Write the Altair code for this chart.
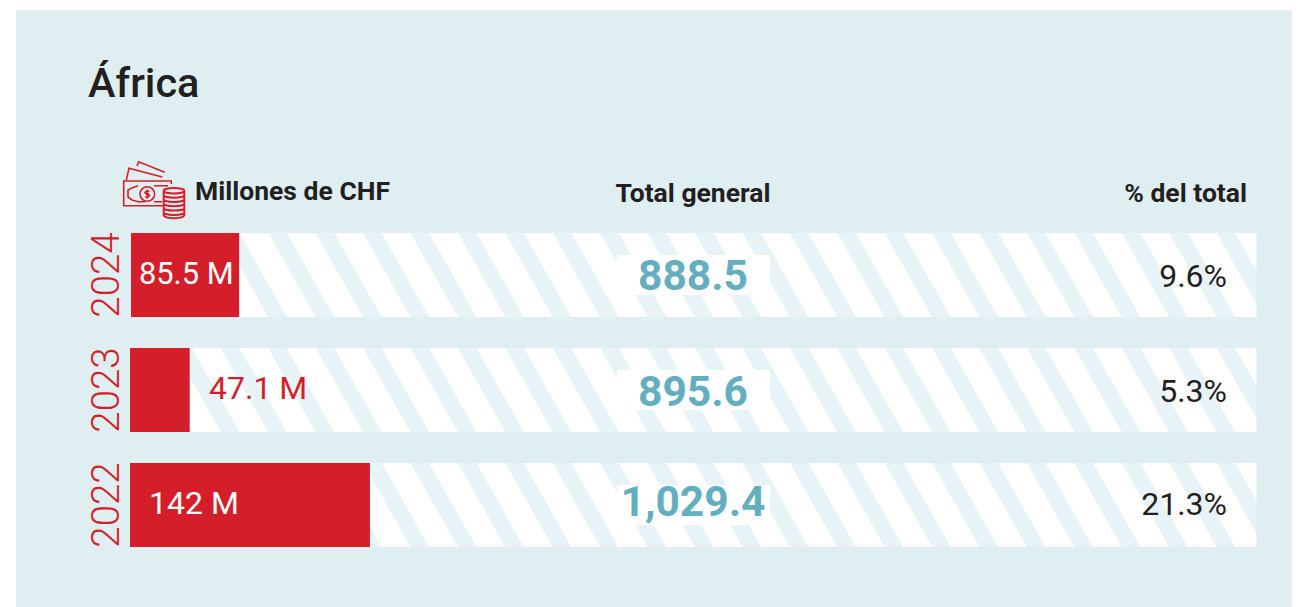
import altair as alt
import pandas as pd

years = ["2024", "2023", "2022"]
amounts = ["85.5 M", "47.1 M", "142 M"]
shares = [9.6, 5.3, 21.3]
share_labels = ["9.6%", "5.3%", "21.3%"]
totals = ["888.5", "895.6", "1,029.4"]
headers = ["Millones de CHF", "Total general", "% del total"]

RED = "#d41f2b"
TEAL = "#63aebf"
DARK = "#231f20"
PANEL = "#dfeef1"
STRIPE = "#e7f3f7"
FONT = "Roboto"

df = pd.DataFrame({"year": years, "amount": amounts, "share": shares,
                   "share_label": share_labels, "total": totals, "full": [100] * 3, "zero": [0] * 3})

x_scale = alt.Scale(domain=[0, 100], range=[114, 1240.5])
y_scale = alt.Scale(domain=years, range=[223, 537], paddingInner=31 / 115, paddingOuter=0)
X = alt.X("zero:Q", scale=x_scale, axis=None)
Y = alt.Y("year:N", scale=y_scale, sort=None, title=None,
          axis=alt.Axis(orient="left", offset=-110, domain=False, ticks=False, labelAngle=270,
                        labelAlign="center", labelBaseline="bottom", labelPadding=0,
                        labelFont=FONT, labelFontWeight=300, labelFontSize=38.5,
                        labelColor=RED, zindex=1, grid=False))

# stripe pattern as a hard-stop linear gradient across the band
period = 47.42
band_w = 1126.5
first = (126.0 - 130.0)
light = 18.5
span = band_w + 2 * period
n = int(span / period) + 2
stops = []
for k in range(n):
    a = (k * period) / span
    b = (k * period + light) / span
    stops += [alt.GradientStop(offset=min(a, 1), color=STRIPE), alt.GradientStop(offset=min(b, 1), color=STRIPE),
              alt.GradientStop(offset=min(b, 1), color="#ffffff"),
              alt.GradientStop(offset=min((k + 1) * period / span, 1), color="#ffffff")]
tilt = band_w / period
gx = (span / band_w) / (1 + 1 / tilt ** 2)
grad = alt.LinearGradient(gradient="linear", stops=stops,
                          x1=first / band_w, y1=0,
                          x2=first / band_w + gx,
                          y2=-gx / tilt)

band = alt.Chart(df).mark_rect(color=grad).encode(x=X, x2="full:Q", y=Y)
bar_shift = {"2024": 1, "2023": 0, "2022": 0}
bars = [
    alt.Chart(df).transform_filter(alt.datum.year == yr).mark_rect(
        color=RED, xOffset=bar_shift[yr], x2Offset=bar_shift[yr]
    ).encode(x=X, x2="share:Q", y=Y)
    for yr in years
]

boxes = alt.Chart(df).mark_bar(color="#ffffff", height=40).encode(x=alt.value(601), x2=alt.value(754), y=Y)

amount_left = {"2024": 123, "2023": 193, "2022": 133}
amount_color = {"2024": "#ffffff", "2023": RED, "2022": "#ffffff"}
amount_size = {"2024": 30.8, "2023": 32, "2022": 32}
amount_dy = {"2024": 0, "2023": -1, "2022": -1}
amount_layers = [
    alt.Chart(df).transform_filter(alt.datum.year == yr).mark_text(
        font=FONT, fontSize=amount_size[yr], fontWeight=400, align="left", baseline="middle", dy=amount_dy[yr],
        color=amount_color[yr]
    ).encode(x=alt.value(amount_left[yr]), y=Y, text="amount:N")
    for yr in years
]

total_dy = {"2024": 2, "2023": 3, "2022": -2}
total_layers = [
    alt.Chart(df).transform_filter(alt.datum.year == yr).mark_text(
        font=FONT, fontSize=42.5, fontWeight=700, color=TEAL, align="center", baseline="middle", dy=total_dy[yr]
    ).encode(x=alt.value(677), y=Y, text="total:N")
    for yr in years
]
share_dy = {"2024": 1.5, "2023": 1.5, "2022": -0.5}
share_layers = [
    alt.Chart(df).transform_filter(alt.datum.year == yr).mark_text(
        font=FONT, fontSize=32, fontWeight=400, color=DARK, align="right", baseline="middle", dy=share_dy[yr]
    ).encode(x=alt.value(1211), y=Y, text="share_label:N")
    for yr in years
]

header_pos = [(179, 190, "left"), (677, 192, "center"), (1231, 192, "right")]
header_layers = [
    alt.Chart(pd.DataFrame({"h": [h]})).mark_text(font=FONT, fontSize=26.5, fontWeight=700, color=DARK, align=al,
                                                  baseline="alphabetic").encode(
        x=alt.value(px), y=alt.value(py), text="h:N")
    for h, (px, py, al) in zip(headers, header_pos)
]

ICON_NOTES = ("M16.3 -6 L16.3 -9 L-31.3 -9 L-31.3 15.7 L8 15.7 "
              "M-28.7 -10 L-26 -21.7 L7.3 -13 M-18 -24 L-16.3 -28.3 L9.7 -17.7 "
              "M-17 -4.3 L-23 -2 L-27 0 L-27 7 L-23 10 L-17 11.7 L-10 11.7 "
              "M-1 -4.3 L13 -4.3 M-1 11.7 L7 11.7 "
              "M-15 4 A7.3 7.3 0 1 1 -0.4 4 A7.3 7.3 0 1 1 -15 4 "
              "M-5.5 1.3 L-8.5 1.3 L-10 2.5 L-9 4 L-6.5 4 L-5.5 5.5 L-7 7 L-10 7 M-7.7 -0.5 L-7.7 8.5")
ICON_COINS = ("M8.7 0.7 A10.3 2.7 0 1 1 29.3 0.7 A10.3 2.7 0 1 1 8.7 0.7 "
              "M8.7 0.7 L8.7 25 A10.3 3.3 0 0 0 29.3 25 L29.3 0.7 "
              "M8.7 5 A10.3 2.7 0 0 0 29.3 5 M8.7 9.3 A10.3 2.7 0 0 0 29.3 9.3 "
              "M8.7 13.6 A10.3 2.7 0 0 0 29.3 13.6 M8.7 17.9 A10.3 2.7 0 0 0 29.3 17.9 "
              "M8.7 22.2 A10.3 2.7 0 0 0 29.3 22.2")
icon_df = pd.DataFrame({"k": [0]})
icons = [alt.Chart(icon_df).mark_point(shape=s, size=4, filled=False, stroke=RED, strokeWidth=w, opacity=1)
         .encode(x=alt.value(139), y=alt.value(180)) for s, w in ((ICON_NOTES, 1.6), (ICON_COINS, 2))]

chart = alt.layer(band, *bars, boxes, *amount_layers, *total_layers, *share_layers, *header_layers, *icons).properties(
    width=1276, height=597,
    padding={"left": 8, "top": 2, "right": 0, "bottom": 0},
    autosize=alt.AutoSizeParams(type="none"),
    background="#ffffff",
    title=alt.TitleParams("África", anchor="start", frame="group", dx=72, dy=132, font=FONT, fontSize=41.5,
                          fontWeight=500, color=DARK, baseline="alphabetic"),
).configure_view(fill=PANEL, stroke=None)

chart.save("out.html", embed_options={"renderer": "svg", "actions": False})
